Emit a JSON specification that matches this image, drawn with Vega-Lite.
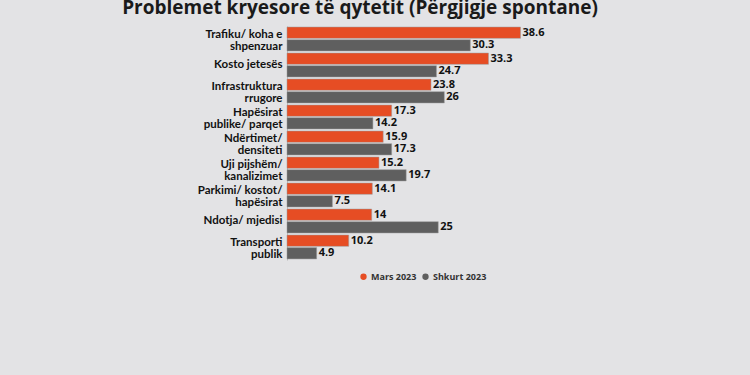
{
  "$schema": "https://vega.github.io/schema/vega-lite/v6.json",
  "width": 242,
  "height": 234,
  "autosize": "none",
  "padding": {"left": 287, "top": 26, "right": 221, "bottom": 115},
  "background": "#e3e3e5",
  "title": {
    "text": "Problemet kryesore të qytetit (Përgjigje spontane)",
    "font": "Open Sans",
    "fontSize": 19,
    "fontWeight": "bold",
    "color": "#1a1a1a",
    "anchor": "middle",
    "frame": "group",
    "dx": -48,
    "offset": 8
  },
  "data": {
    "values": [
      {"cat": "Trafiku/ koha e|shpenzuar", "series": "Mars 2023", "value": 38.6},
      {"cat": "Trafiku/ koha e|shpenzuar", "series": "Shkurt 2023", "value": 30.3},
      {"cat": "Kosto jetesës", "series": "Mars 2023", "value": 33.3},
      {"cat": "Kosto jetesës", "series": "Shkurt 2023", "value": 24.7},
      {"cat": "Infrastruktura|rrugore", "series": "Mars 2023", "value": 23.8},
      {"cat": "Infrastruktura|rrugore", "series": "Shkurt 2023", "value": 26},
      {"cat": "Hapësirat|publike/ parqet", "series": "Mars 2023", "value": 17.3},
      {"cat": "Hapësirat|publike/ parqet", "series": "Shkurt 2023", "value": 14.2},
      {"cat": "Ndërtimet/|densiteti", "series": "Mars 2023", "value": 15.9},
      {"cat": "Ndërtimet/|densiteti", "series": "Shkurt 2023", "value": 17.3},
      {"cat": "Uji pijshëm/|kanalizimet", "series": "Mars 2023", "value": 15.2},
      {"cat": "Uji pijshëm/|kanalizimet", "series": "Shkurt 2023", "value": 19.7},
      {"cat": "Parkimi/ kostot/|hapësirat", "series": "Mars 2023", "value": 14.1},
      {"cat": "Parkimi/ kostot/|hapësirat", "series": "Shkurt 2023", "value": 7.5},
      {"cat": "Ndotja/ mjedisi", "series": "Mars 2023", "value": 14},
      {"cat": "Ndotja/ mjedisi", "series": "Shkurt 2023", "value": 25},
      {"cat": "Transporti|publik", "series": "Mars 2023", "value": 10.2},
      {"cat": "Transporti|publik", "series": "Shkurt 2023", "value": 4.9}
    ]
  },
  "encoding": {
    "y": {
      "field": "cat",
      "type": "nominal",
      "sort": null,
      "scale": {"paddingInner": 0.08, "paddingOuter": 0.04},
      "axis": {
        "title": null,
        "labelExpr": "split(datum.label, '|')",
        "labelFont": "Lato",
        "labelFontSize": 11.5,
        "labelFontWeight": "bold",
        "labelColor": "#111111",
        "labelLineHeight": 11.5,
        "labelOffset": {"condition": {"test": "indexof(datum.value, '|') >= 0", "value": -4}, "value": 0},
        "labelPadding": 5,
        "ticks": false,
        "domain": true,
        "domainColor": "#bbbbbb",
        "grid": false
      }
    },
    "yOffset": {"field": "series", "type": "nominal", "scale": {"paddingInner": 0.1}},
    "x": {
      "field": "value",
      "type": "quantitative",
      "scale": {"domain": [0, 40], "nice": false},
      "axis": null
    },
    "color": {
      "field": "series",
      "type": "nominal",
      "scale": {"domain": ["Mars 2023", "Shkurt 2023"], "range": ["#e64d24", "#5f5f5f"]},
      "legend": {
        "title": null,
        "orient": "none",
        "direction": "horizontal",
        "legendX": 72,
        "legendY": 246,
        "symbolType": "circle",
        "symbolSize": 40,
        "symbolStrokeWidth": 0,
        "labelFont": "Open Sans",
        "labelFontSize": 9,
        "labelFontWeight": "bold",
        "labelColor": "#333333",
        "columnPadding": 4,
        "symbolOffset": 0,
        "labelOffset": 3
      }
    }
  },
  "layer": [
    {"mark": {"type": "bar", "stroke": "#9a9a9a", "strokeWidth": 0.5}},
    {
      "mark": {"type": "text", "align": "left", "baseline": "middle", "dx": 2, "font": "Open Sans", "fontSize": 11, "fontWeight": "bold", "color": "#111111"},
      "encoding": {"text": {"field": "value", "type": "quantitative"}, "color": {"value": "#111111"}}
    }
  ],
  "config": {"view": {"stroke": null}}
}
